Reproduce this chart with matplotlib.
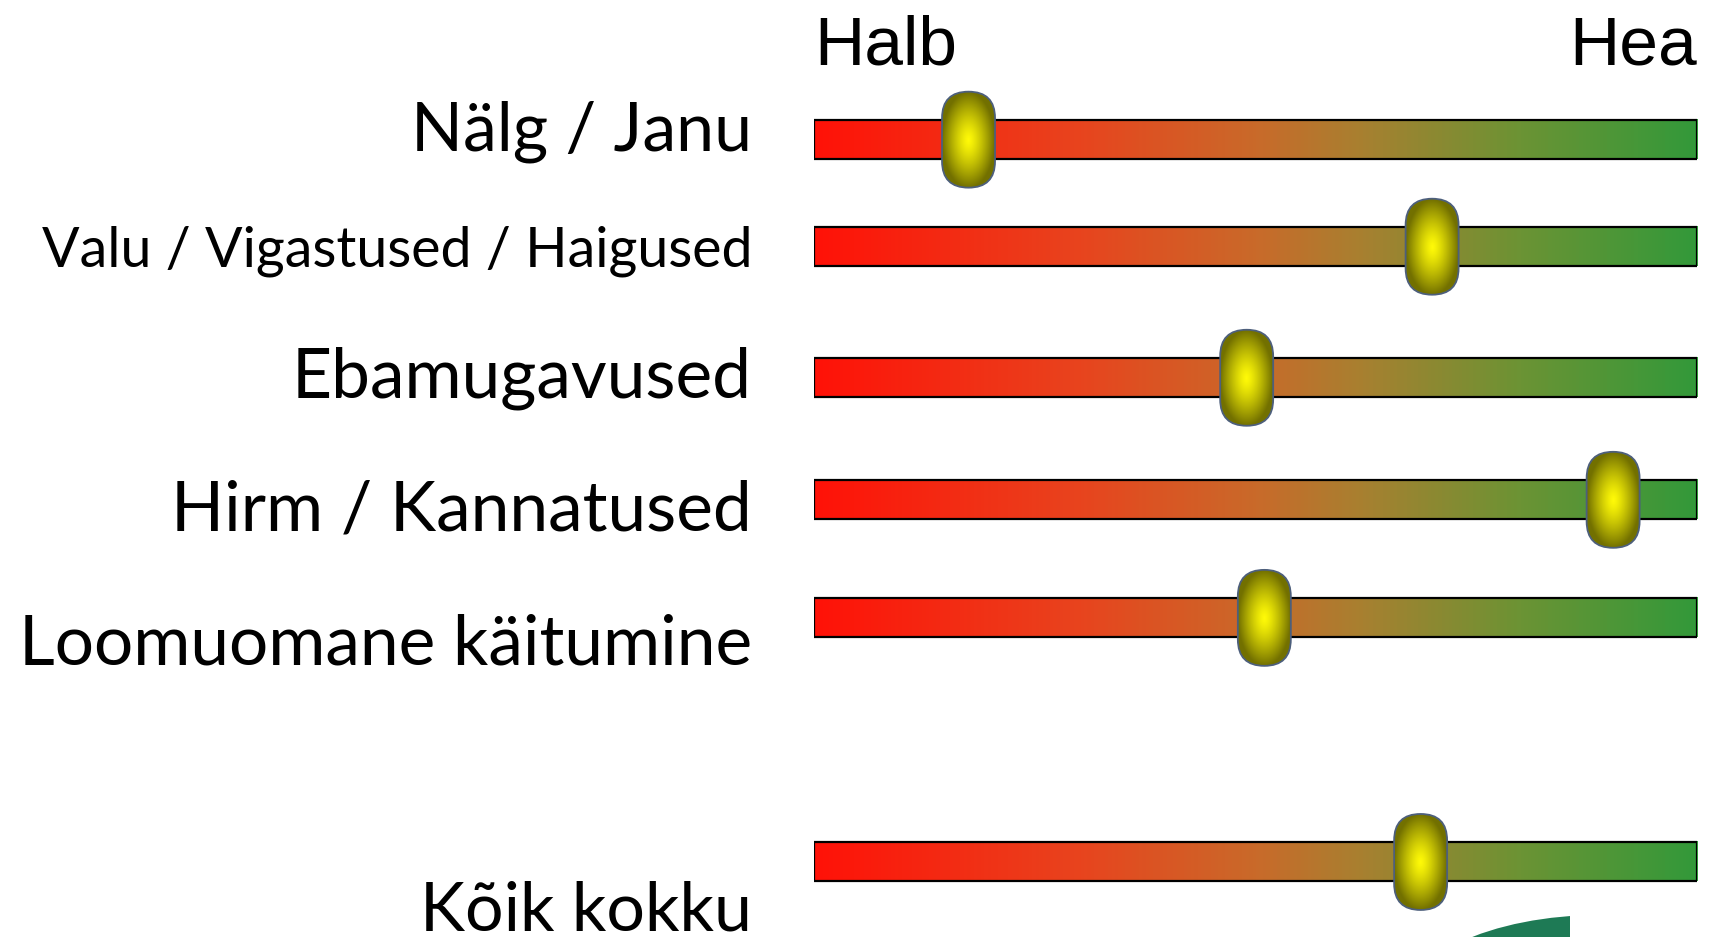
import numpy as np
import matplotlib
matplotlib.use("Agg")
import matplotlib.pyplot as plt
from matplotlib.colors import LinearSegmentedColormap
from matplotlib.patches import FancyBboxPatch, Rectangle, Ellipse
from matplotlib.transforms import ScaledTranslation

# data: slider position on a 0 (Halb) .. 100 (Hea) scale
labels = ["Nälg / Janu", "Valu / Vigastused / Haigused", "Ebamugavused",
          "Hirm / Kannatused", "Loomuomane käitumine", "Kõik kokku"]
scores = [17.5, 70, 49, 90.5, 51, 68.7]
scale_ends = ["Halb", "Hea"]

# layout in pixels (figure is 1709 x 937 at dpi 100)
W, H = 1709, 937
bar_y = [140, 247, 378, 500, 618, 862]        # bar centres
label_base = [150, 266, 397, 530, 664, 930]    # label baselines
label_size = [49, 40, 50, 50, 50, 49]
bar_h = 39
bar_x0, bar_x1 = 814, 1697
knob_w, knob_h = 0.53, 0.96  # inches

fig = plt.figure(figsize=(W / 100, H / 100 + 0.004), dpi=100)
ax = fig.add_axes([bar_x0 / W, 0, (bar_x1 - bar_x0) / W, 1])
ax.set_autoscale_on(False)
ax.set_xlim(0, 100)
ax.set_ylim(H, 0)
ax.axis("off")

cmap = LinearSegmentedColormap.from_list("rg", [
    (0.0, "#ff1208"), (0.3, "#e8441e"), (0.5, "#c96a2a"),
    (0.62, "#a88030"), (0.8, "#6c9334"), (1.0, "#33993a")])
grad = np.linspace(0, 1, 256)[None, :]

# radial yellow gradient for the knobs
yy, xx = np.mgrid[-1:1:120j, -1:1:70j]
r = np.clip(np.sqrt(xx ** 2 + yy ** 2), 0, 1)
k = 1 - 0.55 * r ** 1.3
knob_img = np.clip(np.dstack([k, k * 0.98, 0.03 * (1 - r)]), 0, 1)

for yc, val in zip(bar_y, scores):
    ax.imshow(grad, cmap=cmap, aspect="auto", interpolation="bilinear",
              extent=(0, 100, yc + bar_h / 2, yc - bar_h / 2), zorder=1)
    ax.add_patch(Rectangle((0, yc - bar_h / 2), 100, bar_h, fill=False,
                           ec="black", lw=1.6, zorder=2))

    t = fig.dpi_scale_trans + ScaledTranslation(val, yc, ax.transData)
    cap = FancyBboxPatch((-knob_w / 2, -knob_h / 2), knob_w, knob_h,
                         boxstyle=f"round,pad=0,rounding_size={knob_w / 2}",
                         transform=t, fc="none", ec="#4d5f7c", lw=1.3, zorder=4)
    ax.add_patch(cap)
    im = ax.imshow(knob_img, extent=(-knob_w / 2, knob_w / 2, -knob_h / 2, knob_h / 2),
                   transform=t, interpolation="bilinear", zorder=3)
    im.set_clip_path(cap)

for lab, yb, fs in zip(labels, label_base, label_size):
    fig.text(752 / W, 1 - yb / H, lab, ha="right", va="baseline",
             fontsize=fs, family="Lato", color="black")

fig.text(bar_x0 / W, 1 - 64 / H, scale_ends[0], ha="left", va="baseline",
         fontsize=50, family="Liberation Sans")
fig.text(bar_x1 / W, 1 - 64 / H, scale_ends[1], ha="right", va="baseline",
         fontsize=50, family="Liberation Sans")

# corner of a logo peeking in at the bottom
logo = Ellipse((1600 / W, 1 - 1010 / H), 400 / W, 190 / H,
               transform=fig.transFigure, fc="#1e7a55", ec="none")
clip = Rectangle((0, 0), 1570 / W, 1, transform=fig.transFigure)
logo.set_clip_path(clip)
fig.patches.append(logo)

fig.savefig("out.png", dpi=100)
